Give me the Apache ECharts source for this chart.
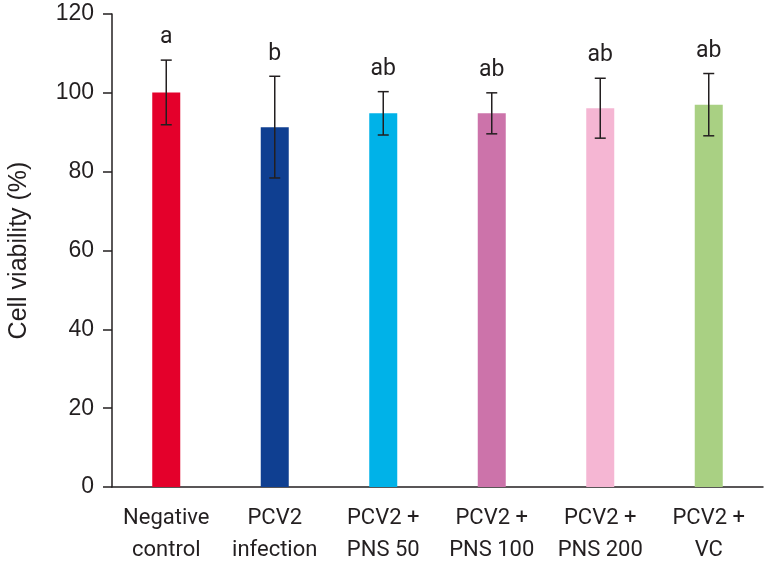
<!DOCTYPE html>
<html><head><meta charset="utf-8">
<script src="https://cdn.jsdelivr.net/npm/echarts@6/dist/echarts.min.js"></script>
<style>html,body{margin:0;padding:0;background:#fff}#c{width:766px;height:561px}</style>
</head><body><div id="c"></div>
<script>
const categories = ['Negative\ncontrol','PCV2\ninfection','PCV2 +\nPNS 50','PCV2 +\nPNS 100','PCV2 +\nPNS 200','PCV2 +\nVC'];
const means = [100.1, 91.3, 94.8, 94.8, 96.1, 97.0];
const errors = [8.2, 12.9, 5.5, 5.2, 7.6, 7.9];
const letters = ['a','b','ab','ab','ab','ab'];
const colors = ['#E4002B','#0F3F91','#00B2E8','#CC73AA','#F5B6D3','#A9D083'];
const yTicks = [0,20,40,60,80,100,120];

const errData = means.map((m,i)=>[i, m-errors[i], m+errors[i]]);
const chart = echarts.init(document.getElementById('c'));
const axisColor = '#231F20';
chart.setOption({
  animation:false,
  grid:{left:112,right:3,top:14,bottom:74,containLabel:false,outerBoundsMode:'none'},
  xAxis:{type:'category',data:categories,
    axisLine:{lineStyle:{color:axisColor,width:1.5}},
    axisTick:{alignWithLabel:true,length:8,lineStyle:{color:axisColor,width:1.5}},
    axisLabel:{color:'#231F20',fontFamily:'Roboto',fontSize:22,lineHeight:32,margin:15,interval:0}},
  yAxis:{type:'value',min:yTicks[0],max:yTicks[yTicks.length-1],interval:20,
    name:'Cell viability (%)',nameLocation:'middle',nameGap:80,
    nameTextStyle:{color:'#231F20',fontFamily:'Liberation Sans',fontSize:25},
    axisLine:{show:true,lineStyle:{color:axisColor,width:1.5}},
    axisTick:{show:true,length:9,lineStyle:{color:axisColor,width:1.5}},
    splitLine:{show:false},
    axisLabel:{color:'#231F20',fontFamily:'Liberation Sans',fontSize:23,margin:18}},
  series:[
    {type:'bar',barWidth:28,data:means.map((v,i)=>({value:v,itemStyle:{color:colors[i]}}))},
    {type:'custom',data:errData,z:10,
     renderItem:function(params,api){
       const i=api.value(0);
       const lo=api.coord([i,api.value(1)]);
       const hi=api.coord([i,api.value(2)]);
       const w=5.5;
       const st={stroke:'#231F20',lineWidth:1.5};
       return {type:'group',children:[
         {type:'line',shape:{x1:hi[0],y1:hi[1],x2:lo[0],y2:lo[1]},style:st},
         {type:'line',shape:{x1:hi[0]-w,y1:hi[1],x2:hi[0]+w,y2:hi[1]},style:st},
         {type:'line',shape:{x1:lo[0]-w,y1:lo[1],x2:lo[0]+w,y2:lo[1]},style:st},
         {type:'text',style:{text:letters[i],x:hi[0],y:hi[1]-11,align:'center',verticalAlign:'bottom',
           fill:'#231F20',font:'23px Roboto'}}
       ]};
     }}
  ]
});
</script></body></html>
